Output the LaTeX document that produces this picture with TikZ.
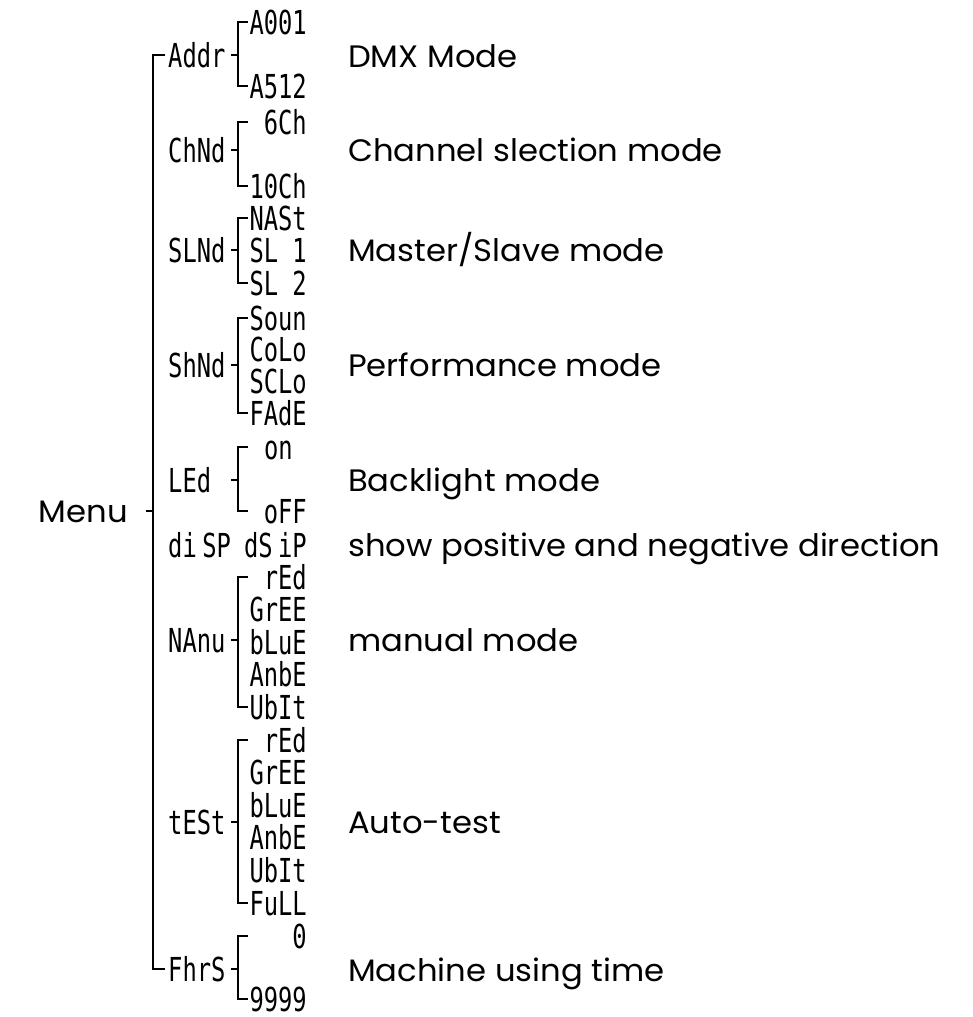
\documentclass[tikz,border=0pt]{standalone}
\usepackage{fontspec}
\setmainfont{Poppins}[FakeStretch=1.04]
\newfontfamily\segfont{DejaVu Sans Mono}[FakeStretch=0.72]
\usetikzlibrary{calc, positioning}
\tikzset{
    item/.style={anchor=west, inner sep=0pt, font=\segfont\fontsize{33}{33}\selectfont, text height=24pt, text depth=0pt},
    val/.style={anchor=east, inner sep=0pt, font=\segfont\fontsize{33}{33}\selectfont, text height=24pt, text depth=0pt},
    desc/.style={anchor=west, inner sep=0pt, font=\fontsize{31}{36}\selectfont, text height=22pt, text depth=0pt},
    brk/.style={draw=black, line width=2pt}
}
% bracket: parent, first child, last child
\newcommand\menubrak[3]{%
    \draw[brk] (#2 -| 248,0) -- (#2 -| 238,0) -- (#3 -| 238,0) -- (#3 -| 248,0);
    \draw[brk] (#1 -| 231,0) -- (#1 -| 238,0);
}

\begin{document}
\begin{tikzpicture}[x=1pt, y=-1pt]
    \useasboundingbox (0,0) rectangle (972,1017);

    % Menu and main line
    \node[desc, anchor=east] (menu) at (128,511) {Menu};
    \coordinate (mtick) at (146,511);
    \coordinate (mline) at (153,511);

    % first level
    \node[item] (addr) at (168,55) {Addr};
    \node[item] (chnd) at (168,150) {ChNd};
    \node[item] (slnd) at (168,250) {SLNd};
    \node[item] (shnd) at (168,365) {ShNd};
    \node[item] (led)  at (168,480) {LEd};
    \node[item] (disp) at (168,545) {di\,SP};
    \node[item] (nanu) at (168,640) {NAnu};
    \node[item] (test) at (168,822) {tESt};
    \node[item] (fhrs) at (168,969) {FhrS};

    \draw[brk] ([xshift=-3pt]addr.west) -| (mline) |- ([xshift=-3pt]fhrs.west);
    \draw[brk] (mtick) -- (mline);

    % values
    \node[val] (a001) at (307,22) {A001};
    \node[val] (a512) at (307,86) {A512};
    \node[val] (ch6)  at (307,122) {6Ch};
    \node[val] (ch10) at (307,186) {10Ch};
    \node[val] (mast) at (307,218) {NASt};
    \node[val] (sl1)  at (307,250) {SL 1};
    \node[val] (sl2)  at (307,283) {SL 2};
    \foreach \t [count=\i] in {Soun,CoLo,SCLo,FAdE}
        \node[val] (sh\i) at (307,318+31.7*\i-31.7) {\t};
    \node[val] (on)   at (293,447) {on};
    \node[val] (off)  at (307,511) {oFF};
    \node[val] (dsip) at (307,545) {dS\,iP};
    \foreach \t [count=\i] in {rEd,GrEE,bLuE,AnbE,UbIt}
        \node[val] (ma\i) at (307,577+32.5*\i-32.5) {\t};
    \foreach \t [count=\i] in {rEd,GrEE,bLuE,AnbE,UbIt,FuLL}
        \node[val] (te\i) at (307,740+32.6*\i-32.6) {\t};
    \node[val] (h0)   at (307,936) {0};
    \node[val] (h9)   at (307,999) {9999};

    % brackets
    \menubrak{addr}{a001}{a512}
    \menubrak{chnd}{ch6}{ch10}
    \menubrak{slnd}{mast}{sl2}
    \menubrak{shnd}{sh1}{sh4}
    \menubrak{led}{on}{off}
    \menubrak{nanu}{ma1}{ma5}
    \menubrak{test}{te1}{te6}
    \menubrak{fhrs}{h0}{h9}

    % descriptions
    \node[desc] (d1) at (348,56) {DMX Mode};
    \node[desc] (d2) at (348,150) {Channel slection mode};
    \node[desc] (d3) at (348,250) {Master/Slave mode};
    \node[desc] (d4) at (348,365) {Performance mode};
    \node[desc] (d5) at (348,480) {Backlight mode};
    \node[desc] (d6) at (348,545) {show positive and negative direction};
    \node[desc] (d7) at (348,640) {manual mode};
    \node[desc] (d8) at (348,822) {Auto-test};
    \node[desc] (d9) at (348,970) {Machine using time};
\end{tikzpicture}
\end{document}
